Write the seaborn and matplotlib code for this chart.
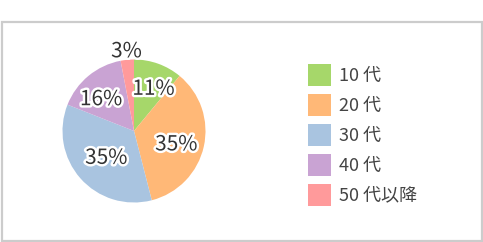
import math
import matplotlib
matplotlib.use("Agg")
import matplotlib.pyplot as plt
import matplotlib.patheffects as pe
from matplotlib.patches import Rectangle
import seaborn as sns

categories = ["10代", "20代", "30代", "40代", "50代以降"]
legend_labels = ["10 代", "20 代", "30 代", "40 代", "50 代以降"]
values = [11, 35, 35, 16, 3]
hex_colors = ["#a6d76a", "#ffb877", "#a9c4e0", "#c9a3d3", "#ff9a9b"]

sns.set_theme(style="white")
plt.rcParams["font.family"] = ["Noto Sans CJK JP", "DejaVu Sans"]
palette = sns.color_palette(hex_colors)

W, H = 483, 242
fig = plt.figure(figsize=(W / 100, H / 100), dpi=100)
fig.patch.set_facecolor("white")

# outer frame
fig.patches.append(Rectangle((1.5 / W, 1.5 / H), (W - 3) / W, (H - 23) / H,
                             transform=fig.transFigure, fill=False,
                             edgecolor="#cccccc", linewidth=1.6))

cx, cy, r = 134, 131, 71.5
ax = fig.add_axes([(cx - r) / W, (H - cy - r) / H, 2 * r / W, 2 * r / H])
wedges, texts, autotexts = ax.pie(values, colors=palette, startangle=90,
                                  counterclock=False, autopct="%d%%",
                                  pctdistance=0.62, radius=1.0,
                                  wedgeprops=dict(linewidth=0))
ax.set_xlim(-1, 1)
ax.set_ylim(-1, 1)
ax.set_aspect("equal")
ax.axis("off")

# label placement (angle offset in degrees, distance from centre)
label_layout = [(-5, 0.65), (-5, 0.62), (2.6, 0.54), (6.4, 0.64), (0, 1.12)]
for w, t, (off, d) in zip(wedges, autotexts, label_layout):
    ang = math.radians((w.theta1 + w.theta2) / 2 + off)
    t.set_position((d * math.cos(ang), d * math.sin(ang)))
    t.set_fontsize(15)
    t.set_color("#333333")
    t.set_path_effects([pe.withStroke(linewidth=3.5, foreground="white")])

# legend drawn as figure patches + text
top0, step, sq_w, sq_h = 64, 30, 23, 22
for i, (c, lab) in enumerate(zip(palette, legend_labels)):
    y_top = top0 + step * i
    fig.patches.append(Rectangle((308 / W, 1 - (y_top + sq_h) / H), sq_w / W, sq_h / H,
                                 transform=fig.transFigure, facecolor=c,
                                 edgecolor="none"))
    fig.text(339 / W, 1 - (y_top + sq_h / 2 + 0.5) / H, lab, fontsize=13,
             color="#444444", va="center", ha="left")

fig.savefig("out.png", dpi=100)
